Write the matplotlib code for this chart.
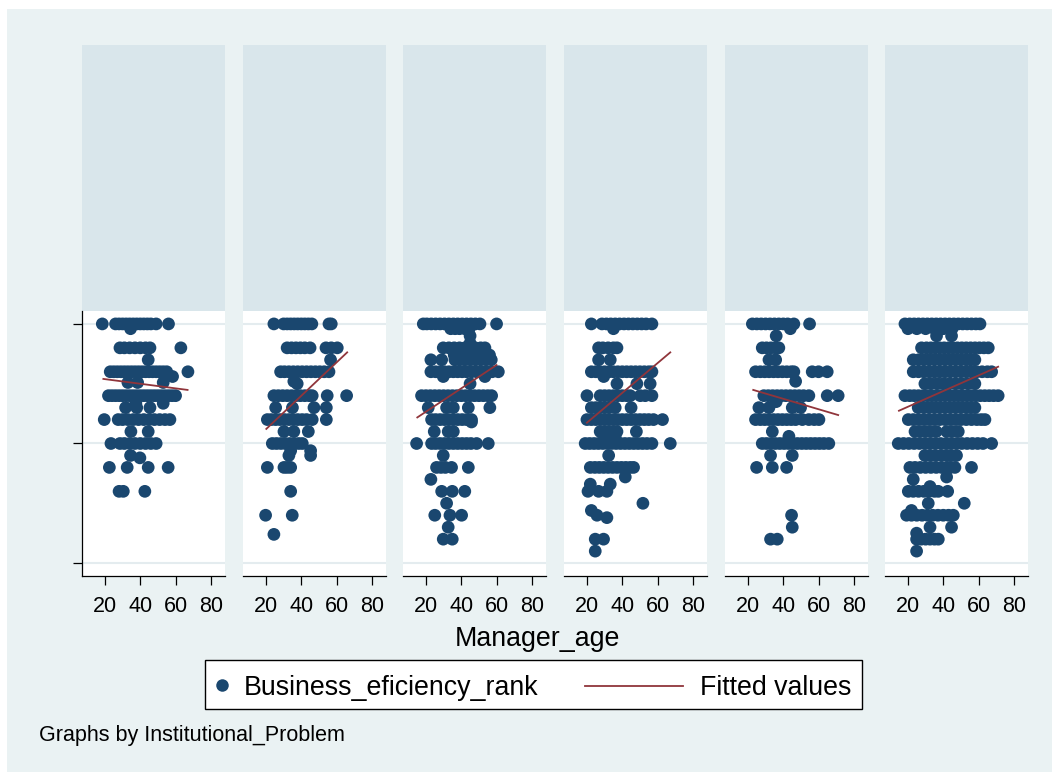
import matplotlib
matplotlib.use("Agg")
import matplotlib.pyplot as plt
from matplotlib.patches import Rectangle
from matplotlib.lines import Line2D

plt.rcParams['font.family'] = ['Liberation Sans', 'DejaVu Sans']

W, H = 1052, 772

# Manager age values at each business-efficiency rank level, one dict per panel
panel_1 = {
    10: [18.5, 26, 28, 30, 32, 34, 36, 38, 40, 42, 44, 46, 49, 56],
    9.8: [34.5],
    9: [28.5, 31, 34, 37, 40, 43, 45.5, 63],
    8.5: [44.5],
    8: [23, 25, 27, 29, 31, 33, 35, 37, 39, 41, 43, 45, 47, 49, 51, 53, 55, 67],
    7.8: [58.3],
    7.55: [33, 38.5, 53],
    7: [22, 24, 26, 28, 30, 32, 34, 36, 38, 40, 42, 44, 46, 48, 50, 52, 54, 56, 58, 60],
    6.68: [37.5, 53],
    6.5: [31.7, 38, 45.5],
    6: [19.6, 27.5, 30, 33, 36, 39, 42, 45, 48, 51, 54, 56.8],
    5.5: [34.7, 44.5],
    5: [23.4, 28.5, 31, 34, 37, 40, 43, 46, 49],
    4.5: [34.5],
    4.4: [39.8],
    4: [22.5, 32.6, 44.5, 55.8],
    3: [28, 30.4, 42.6],
}
panel_2 = {
    10: [24.5, 30, 32, 34, 36, 38, 40, 42, 44, 46, 55.7, 57],
    9: [32, 34.5, 37, 39.5, 42, 45, 54, 57, 60.4],
    8.5: [56.6],
    8: [28.3, 30.5, 33, 35.5, 38, 40.5, 43, 45.5, 48, 50.5, 53, 55.7],
    7.6: [35.8],
    7.5: [37.7],
    7: [24.5, 27, 29.5, 32, 34.5, 37, 39.5, 42, 44.5, 46.2, 54.7, 65.7],
    6.5: [25.5, 35, 47.2, 54.2],
    6: [20.8, 23, 25.5, 28, 30.5, 33, 35.5, 38, 40.5, 43, 46.2, 54.2],
    5.5: [30.2, 35.8, 44],
    5: [23.6, 26, 28.5, 31, 33.5, 36, 38.5, 40.6],
    4.7: [34, 45.3],
    4.5: [33, 45.3],
    4: [20.8, 30.2, 32, 34],
    3: [34],
    2: [19.8, 34.9],
    1.2: [24.5],
}
panel_3 = {
    10: [18.5, 20.5, 23, 25.5, 28, 30.5, 33, 35.5, 38, 40.5, 43, 45.5, 48, 50.6, 60],
    9.8: [34, 36.5, 39, 42, 44.5],
    9.5: [45],
    9.2: [45],
    9: [29.8, 33, 36, 39, 42, 45, 48, 51, 53.4],
    8.7: [36, 40, 44, 48, 52, 56],
    8.5: [22.8, 28.9, 36.4, 39, 42, 45, 48, 51, 54, 57],
    8: [22.8, 25.5, 28, 30.5, 33, 35.5, 38, 40.5, 43, 45.8, 48.7, 51.5, 54.5, 57.5, 61],
    7.8: [29.8, 53.4],
    7.5: [45],
    7: [17.5, 20, 22.5, 25, 27.5, 30, 32.5, 35, 37.5, 40, 42.5, 45, 47.5, 50, 52.5, 55, 57.2],
    6.5: [21.3, 31.7, 35.5, 44, 56.2],
    6: [23.2, 25.5, 28, 30.5, 33, 35.5, 38, 40.5, 43, 45.8],
    5.9: [45.8],
    5.5: [24.7, 32.6, 35.5],
    5: [14.7, 23.2, 25.5, 28, 30.5, 33, 35.5, 38, 40.5, 43, 45.5, 48.7, 55.3],
    4.5: [29.8],
    4: [26, 28.5, 31, 34.5, 44],
    3.5: [22.8],
    3: [28.9, 34.9, 42],
    2.5: [31.7],
    2: [25, 33.6, 40.2],
    1.5: [32.6],
    1: [29.8, 34.9],
}
panel_4 = {
    10: [22.5, 28.5, 31, 33.5, 36, 38.5, 41, 43.5, 46, 48.5, 51, 53.5, 56.8],
    9.8: [35],
    9: [26.6, 29, 32, 35, 37],
    8.5: [26.6, 33.2],
    8: [22.5, 25, 27.5, 30, 32.5, 35, 37.5, 40, 42.5, 45, 47.5, 50, 52.5, 55, 56.8],
    7.8: [29.5],
    7.5: [37, 48.3, 55.8],
    7: [20, 27.5, 30, 32.5, 35, 37.5, 40, 42.5, 44.5, 50.2, 53, 56.8],
    6.5: [22.5, 25, 27.5, 30, 32.5, 36, 45],
    6: [20, 22.5, 25, 27.5, 30, 32.5, 35, 37.5, 40, 42.5, 45, 47.5, 50, 52.5, 55, 57.7, 62.8],
    5.5: [27.5, 30, 32.5, 35, 37, 48],
    5.3: [30, 33, 36],
    5: [19, 21.5, 24, 26.5, 29, 31.5, 34, 36.5, 39, 41.5, 44, 46.5, 49, 51.5, 54, 56.8, 67.2],
    4.5: [32.3],
    4: [21.9, 24.5, 27, 29.5, 32, 34.5, 37, 39.5, 42, 44.5, 46.4],
    3.6: [41.7],
    3.3: [21.9, 33.2],
    3: [20.6, 26.6, 31.3],
    2.5: [51.7],
    2.2: [22.5],
    2: [25.7],
    1.9: [31.3],
    1: [24.7, 29.4],
    0.5: [24.7],
}
panel_5 = {
    10: [22.5, 25, 27.5, 30, 32.5, 35, 37.5, 40, 42.5, 46, 54.9],
    9.8: [44],
    9.5: [36],
    9: [28.1, 30.5, 33, 35.5, 37.5],
    8.5: [31.9, 35.7],
    8: [24.3, 27, 29.5, 32, 34.5, 37, 39.5, 42, 44.5, 46, 56.4, 60, 64.9],
    7.6: [47],
    7: [29, 31.5, 34, 36.5, 39, 41.5, 44, 46.5, 49, 51.5, 54.5, 64.9, 71.1],
    6.75: [36],
    6.5: [26.2, 31.9, 45.1, 49.8],
    6: [24.3, 27, 29.5, 32, 34.5, 37, 39.5, 42, 44.5, 47, 50.8, 54.5, 57.5, 60.2],
    5.5: [33.8],
    5.3: [43.2],
    5: [28.1, 30.5, 33, 35.5, 38, 40.5, 43, 45.5, 48, 50.5, 53, 55.5, 58, 60.5, 63, 65.8],
    4.5: [32.8, 45.1],
    4: [24.9, 33.8, 41.9],
    2: [44.7],
    1.5: [45.1],
    1: [32.8, 36.6],
}
panel_6 = {
    10: [18.3, 21, 23.5, 26, 28.5, 31, 33.5, 36, 38.5, 41, 43.5, 46, 48.5, 51, 53.5, 56, 58.5, 60.8],
    9.8: [20, 25, 30, 35, 40, 45],
    9.5: [36.2, 44.7],
    9: [27.7, 30.5, 33, 35.5, 38, 40.5, 43, 45.5, 48, 50.5, 53, 55.5, 58, 60.5, 63, 65.5],
    8.5: [23, 26, 29, 32, 35, 38, 41, 44, 47, 50, 53, 55.5, 57.9],
    8: [23, 26, 29, 32, 35, 38, 41, 44, 47, 50, 53, 56, 59, 62, 65, 67.4],
    7.5: [29.6, 33, 36.5, 40, 43.5, 47, 50.5, 54, 57.9],
    7: [18.3, 21, 23.5, 26, 28.5, 31, 33.5, 36, 38.5, 41, 43.5, 46, 48.5, 51, 53.5, 56,
        58.5, 61, 63.5, 66, 68.5, 71.1],
    6.5: [25.8, 29, 32, 35, 38, 41, 44, 47, 50, 53, 55.5, 57.9],
    6: [20.2, 23, 26, 29, 32, 35, 38, 41, 44, 47, 50, 53, 56, 59, 61.5, 63.6],
    5.5: [24, 27, 30, 33, 36, 42, 45, 48.5],
    5: [14.5, 17.5, 20.5, 23.5, 26.5, 29.5, 32.5, 35.5, 38.5, 41.5, 44.5, 47.5, 50.5,
        53.5, 56.5, 59.5, 62.5, 67.4],
    4.5: [29.6, 32.5, 35.5, 39, 42, 44.5, 47.5],
    4: [21.1, 24, 27, 30, 33, 36, 39, 42, 44, 46.6, 56],
    3.6: [41.9],
    3.5: [23],
    3.2: [32.5],
    3: [20.2, 23, 26, 29, 32, 35, 37.2, 42.5],
    2.5: [31.5, 51.9],
    2.2: [22],
    2: [19.2, 22, 25, 28, 31, 34, 37, 40, 43, 45.7],
    1.5: [32.5, 44.7],
    1.25: [24.9],
    1: [24.9, 27.5, 30, 32.5, 35, 37.2],
    0.5: [24.9],
}
panels = [panel_1, panel_2, panel_3, panel_4, panel_5, panel_6]

# Linear fit per panel: start/end age and fitted rank
fit_x_start = [19.1, 20.2, 15.1, 20.0, 23.0, 14.9]
fit_x_end = [66.8, 66.0, 60.0, 67.2, 71.1, 71.1]
fit_y_start = [7.70, 5.61, 6.09, 5.87, 7.24, 6.37]
fit_y_end = [7.24, 8.81, 8.28, 8.81, 6.19, 8.21]

x_ticks = [20, 40, 60, 80]
y_ticks = [0, 5, 10]

NAVY = '#1A476F'
MAROON = '#90353B'
OUTER = '#EAF2F3'
HEADER = '#D9E6EB'
GRID = '#E4ECEF'


def fx(px):
    return px / W


def fy(py):
    return 1 - py / H


fig = plt.figure(figsize=(W / 100, H / 100), dpi=100)
fig.patch.set_facecolor('white')
fig.patches.append(Rectangle((fx(7), 0), 1 - fx(7), fy(9), transform=fig.transFigure,
                             facecolor=OUTER, edgecolor='none', zorder=-10))

lefts = [82, 243, 403, 564, 725, 885]
pw = 143
top_hdr, top_plot, bottom_plot = 45, 311, 576

for i, (left, data) in enumerate(zip(lefts, panels)):
    # empty by-group header strip
    hdr = fig.add_axes([fx(left), fy(top_plot), pw / W, (top_plot - top_hdr) / H])
    hdr.set_facecolor(HEADER)
    hdr.set_xticks([])
    hdr.set_yticks([])
    for s in hdr.spines.values():
        s.set_visible(False)

    ax = fig.add_axes([fx(left), fy(bottom_plot), pw / W, (bottom_plot - top_plot) / H])
    ax.set_facecolor('white')
    xs, ys = [], []
    for lvl, ages in data.items():
        xs.extend(ages)
        ys.extend([lvl] * len(ages))
    ax.scatter(xs, ys, s=84, color=NAVY, edgecolors='none', zorder=3)
    ax.plot([fit_x_start[i], fit_x_end[i]], [fit_y_start[i], fit_y_end[i]],
            color=MAROON, lw=1.3, zorder=4)

    ax.set_xlim(7, 88)
    ax.set_ylim(-0.54, 10.54)
    ax.set_xticks(x_ticks)
    ax.set_xticklabels([str(t) for t in x_ticks], fontsize=15.5)
    ax.tick_params(axis='x', length=6.5, width=0.9, pad=8, colors='black')
    ax.set_yticks(y_ticks)
    ax.yaxis.grid(True, color=GRID, lw=1.5)
    ax.set_axisbelow(True)
    ax.spines['top'].set_visible(False)
    ax.spines['right'].set_visible(False)
    ax.spines['bottom'].set_linewidth(0.9)
    if i == 0:
        ax.spines['left'].set_linewidth(0.9)
        ax.tick_params(axis='y', length=6.5, width=0.9, labelleft=False)
    else:
        ax.spines['left'].set_visible(False)
        ax.tick_params(axis='y', length=0, labelleft=False)

fig.text(fx(537), fy(639), 'Manager_age', fontsize=19.3, ha='center', va='center')

# legend box
fig.patches.append(Rectangle((fx(205), fy(709)), (862 - 205) / W, (709 - 660) / H,
                             transform=fig.transFigure, facecolor='white',
                             edgecolor='black', lw=1.0, zorder=5))
fig.lines.append(Line2D([fx(222)], [fy(685)], transform=fig.transFigure, marker='o',
                        markersize=9, color=NAVY, markeredgewidth=0, linestyle='none',
                        zorder=6))
fig.text(fx(244), fy(688), 'Business_eficiency_rank', fontsize=19.3, ha='left',
         va='center', zorder=6)
fig.lines.append(Line2D([fx(585), fx(683)], [fy(686), fy(686)], transform=fig.transFigure,
                        color=MAROON, lw=1.3, zorder=6))
fig.text(fx(700), fy(688), 'Fitted values', fontsize=19.3, ha='left', va='center', zorder=6)

fig.text(fx(39), fy(735), 'Graphs by Institutional_Problem', fontsize=15.5,
         ha='left', va='center')

fig.savefig('out.png', dpi=100, facecolor=fig.get_facecolor())
